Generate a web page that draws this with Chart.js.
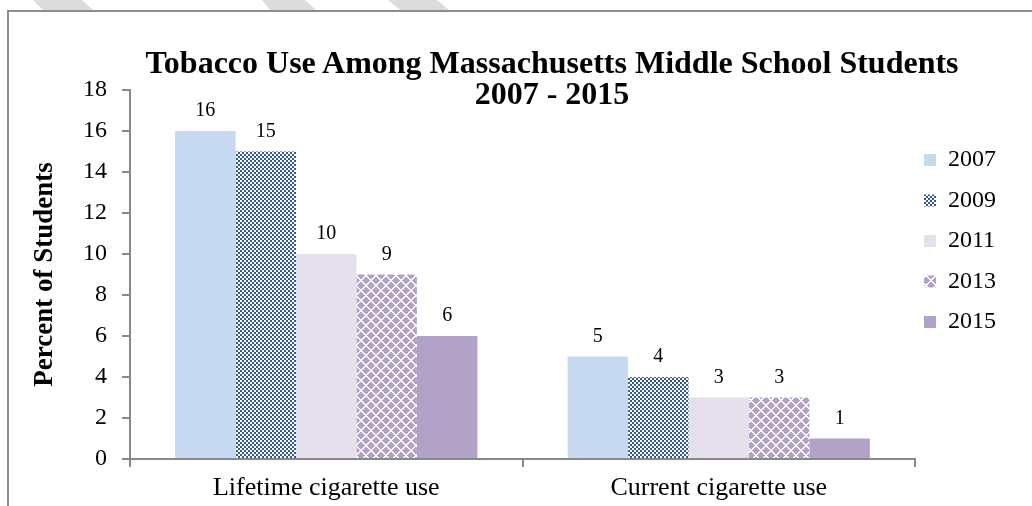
<!DOCTYPE html>
<html lang="en">
<head>
  <meta charset="UTF-8" />
  <title>Tobacco Use Among Massachusetts Middle School Students</title>
  <script src="https://cdn.jsdelivr.net/npm/chart.js"></script>
  <style>
    html, body {
      margin: 0;
      padding: 0;
      background: #fff;
      overflow: hidden;
    }
    body {
      width: 1032px;
      height: 506px;
      position: relative;
      font-family: "Liberation Serif", "Times New Roman", serif;
    }
    .marco {
      position: absolute;
      left: 7px;
      top: 10px;
      width: 1100px;
      height: 600px;
      border-left: 2px solid #8c8c8c;
      border-top: 2px solid #8c8c8c;
    }
    .franja {
      position: absolute;
      top: 0;
      height: 10px;
      background: #dcdcdc;
    }
    #titulo {
      position: absolute;
      left: 52px;
      top: 47px;
      width: 1000px;
      text-align: center;
      font-weight: bold;
      font-size: 32px;
      line-height: 31px;
      color: #000;
    }
    #grafico {
      position: absolute;
      left: 0;
      top: 0;
    }
  </style>
</head>
<body>
  <div class="marco"></div>
  <div class="franja" style="left:33px;width:60px;clip-path:polygon(0 0,49px 0,60px 10px,10px 10px)"></div>
  <div class="franja" style="left:262px;width:54px;clip-path:polygon(0 0,43px 0,54px 10px,8px 10px)"></div>
  <div class="franja" style="left:388px;width:61px;clip-path:polygon(0 0,49px 0,61px 10px,12px 10px)"></div>

  <canvas id="grafico" width="1032" height="506"></canvas>

  <div id="titulo">Tobacco Use Among Massachusetts Middle School Students<br>2007 - 2015</div>

  <script>
    // datos
    const categories = ['Lifetime cigarette use', 'Current cigarette use'];
    const years = ['2007', '2009', '2011', '2013', '2015'];
    const values2007 = [16, 5];
    const values2009 = [15, 4];
    const values2011 = [10, 3];
    const values2013 = [9, 3];
    const values2015 = [6, 1];
    const yMin = 0;
    const yMax = 18;
    const yStep = 2;

    const serif = '"Liberation Serif", "Times New Roman", serif';

    // trama de cuadritos azul (2009)
    function patternChecks() {
      const c = document.createElement('canvas');
      c.width = 4; c.height = 4;
      const g = c.getContext('2d');
      g.fillStyle = '#2f5790';
      g.fillRect(0, 0, 4, 4);
      g.fillStyle = '#ffffff';
      g.fillRect(0, 0, 2, 2);
      g.fillRect(2, 2, 2, 2);
      return g.createPattern(c, 'repeat');
    }

    // trama de rombos lila (2013)
    function patternDiamonds() {
      const c = document.createElement('canvas');
      c.width = 10; c.height = 10;
      const g = c.getContext('2d');
      g.fillStyle = '#b3a2c7';
      g.fillRect(0, 0, 10, 10);
      g.fillStyle = '#ffffff';
      for (let i = 0; i < 10; i++) {
        g.fillRect(i, i, 1, 1);
        g.fillRect((i + 1) % 10, i, 1, 1);
        g.fillRect((10 - i) % 10, i, 1, 1);
        g.fillRect((11 - i) % 10, i, 1, 1);
      }
      return g.createPattern(c, 'repeat');
    }

    const fills = ['#c6d9f0', patternChecks(), '#e5e0ec', patternDiamonds(), '#b3a2c7'];
    const seriesValues = [values2007, values2009, values2011, values2013, values2015];

    // numeros encima de cada barra
    const valueLabels = {
      id: 'valueLabels',
      afterDatasetsDraw(chart) {
        const ctx = chart.ctx;
        ctx.save();
        ctx.font = '20px ' + serif;
        ctx.fillStyle = '#000';
        ctx.textAlign = 'center';
        ctx.textBaseline = 'alphabetic';
        chart.data.datasets.forEach((ds, i) => {
          chart.getDatasetMeta(i).data.forEach((bar, j) => {
            ctx.fillText(String(ds.data[j]), bar.x, bar.y - 15);
          });
        });
        ctx.restore();
      }
    };

    // coloca la leyenda como en el original
    const legendPlace = {
      id: 'legendPlace',
      afterLayout(chart) {
        const l = chart.legend;
        const w = l.right - l.left;
        const h = l.bottom - l.top;
        l.left = 907.5;
        l.right = l.left + w;
        l.top = 131.5;
        l.bottom = l.top + h;
      }
    };

    const axisGray = '#898989';

    new Chart(document.getElementById('grafico'), {
      type: 'bar',
      data: {
        labels: categories,
        datasets: years.map((y, i) => ({
          label: y,
          data: seriesValues[i],
          backgroundColor: fills[i],
          borderWidth: 0,
          categoryPercentage: 0.77,
          barPercentage: 1
        }))
      },
      options: {
        responsive: false,
        animation: false,
        layout: { padding: { top: 90, left: 0, right: 19, bottom: 0 } },
        plugins: {
          tooltip: { enabled: false },
          title: { display: false },
          legend: {
            position: 'right',
            align: 'start',
            maxWidth: 98,
            labels: {
              boxWidth: 12,
              boxHeight: 12,
              padding: 16.5,
              color: '#000',
              font: { family: serif, size: 24 }
            }
          }
        },
        scales: {
          x: {
            grid: { drawOnChartArea: false, drawTicks: true, tickLength: 8, color: axisGray, lineWidth: 2, offset: true },
            border: { color: axisGray, width: 2 },
            ticks: { color: '#000', padding: 6, font: { family: serif, size: 26 } },
            afterFit(scale) { scale.height = 47; }
          },
          y: {
            min: yMin,
            max: yMax,
            ticks: { stepSize: yStep, color: '#000', padding: 15, font: { family: serif, size: 24 } },
            grid: { drawOnChartArea: false, drawTicks: true, tickLength: 8, color: axisGray, lineWidth: 2 },
            border: { color: axisGray, width: 2 },
            title: {
              display: true,
              text: 'Percent of Students',
              color: '#000',
              font: { family: serif, size: 27, weight: 'bold' },
              padding: { top: 29, bottom: 0 }
            },
            afterFit(scale) { scale.width = 130; }
          }
        }
      },
      plugins: [valueLabels, legendPlace]
    });
  </script>
</body>
</html>
